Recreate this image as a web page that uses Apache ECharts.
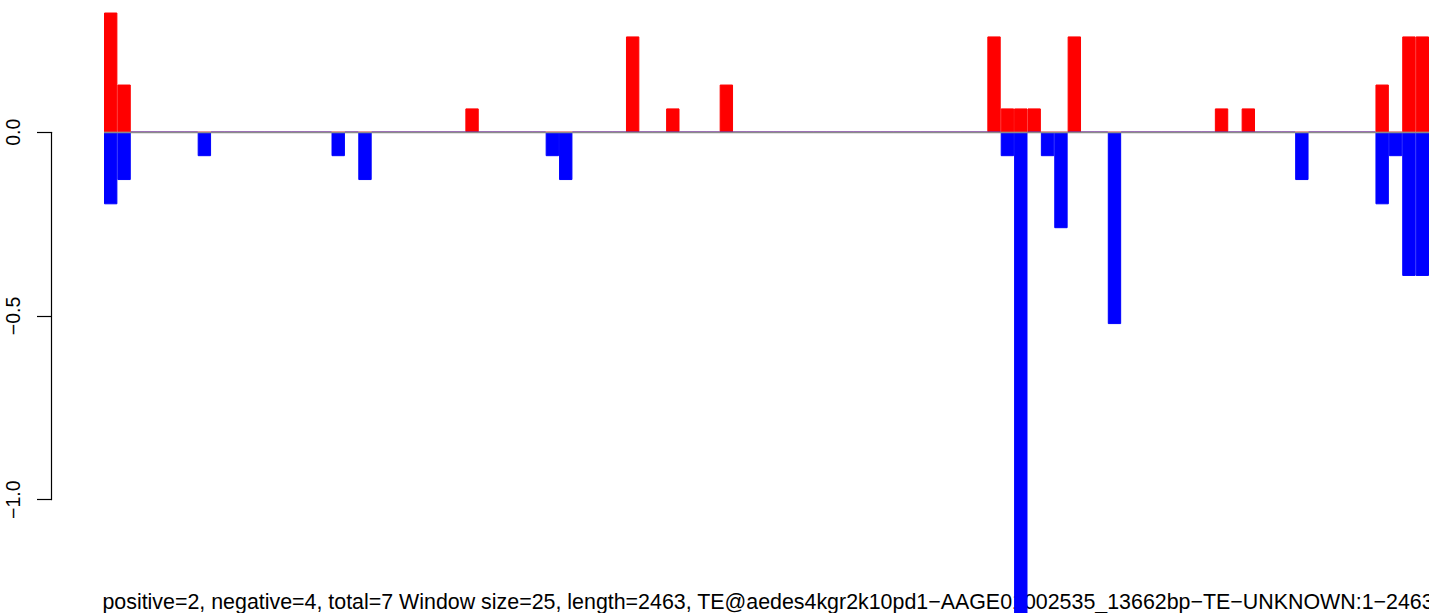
<!DOCTYPE html>
<html>
<head>
<meta charset="utf-8">
<script src="https://cdn.jsdelivr.net/npm/echarts@6/dist/echarts.min.js"></script>
<style>
html,body{margin:0;padding:0;background:#ffffff;}
#chart{width:1429px;height:613px;}
</style>
</head>
<body>
<div id="chart"></div>
<script>
// window index (1..99), window size 25 over length 2463
const windows = [1,2,3,4,5,6,7,8,9,10,11,12,13,14,15,16,17,18,19,20,
  21,22,23,24,25,26,27,28,29,30,31,32,33,34,35,36,37,38,39,40,
  41,42,43,44,45,46,47,48,49,50,51,52,53,54,55,56,57,58,59,60,
  61,62,63,64,65,66,67,68,69,70,71,72,73,74,75,76,77,78,79,80,
  81,82,83,84,85,86,87,88,89,90,91,92,93,94,95,96,97,98,99];

// positive strand values (red)
const positive = [0.326,0.130,0,0,0,0,0,0,0,0,
  0,0,0,0,0,0,0,0,0,0,
  0,0,0,0,0,0,0,0.065,0,0,
  0,0,0,0,0,0,0,0,0,0.261,
  0,0,0.065,0,0,0,0.130,0,0,0,
  0,0,0,0,0,0,0,0,0,0,
  0,0,0,0,0,0,0.261,0.065,0.065,0.065,
  0,0,0.261,0,0,0,0,0,0,0,
  0,0,0,0.065,0,0.065,0,0,0,0,
  0,0,0,0,0,0.130,0,0.261,0.261];

// negative strand values (blue)
const negative = [-0.196,-0.130,0,0,0,0,0,-0.065,0,0,
  0,0,0,0,0,0,0,-0.065,0,-0.130,
  0,0,0,0,0,0,0,0,0,0,
  0,0,0,-0.065,-0.130,0,0,0,0,0,
  0,0,0,0,0,0,0,0,0,0,
  0,0,0,0,0,0,0,0,0,0,
  0,0,0,0,0,0,0,-0.065,-1.40,0,
  -0.065,-0.261,0,0,0,-0.522,0,0,0,0,
  0,0,0,0,0,0,0,0,0,-0.130,
  0,0,0,0,0,-0.196,-0.065,-0.391,-0.391];

const yTicks = [0, -0.5, -1.0];
const xLabel = "positive=2, negative=4, total=7 Window size=25, length=2463, TE@aedes4kgr2k10pd1\u2212AAGE01002535_13662bp\u2212TE\u2212UNKNOWN:1\u22122463";

const FONT = "'Liberation Sans', Arial, Helvetica, sans-serif";
const chart = echarts.init(document.getElementById('chart'), null, {renderer: 'svg', width: 1429, height: 613});

const option = {
  animation: false,
  backgroundColor: '#ffffff',
  grid: [
    {left: 104, top: 0, width: 1328.2, height: 613, containLabel: false},
    {left: 51, top: 132.3, width: 1, height: 367.4, containLabel: false}
  ],
  xAxis: [
    {type: 'category', gridIndex: 0, data: windows, show: false, boundaryGap: true},
    {type: 'value', gridIndex: 1, show: false}
  ],
  yAxis: [
    {type: 'value', gridIndex: 0, min: -1.3084, max: 0.3601, show: false},
    {
      type: 'value', gridIndex: 1,
      min: yTicks[2], max: yTicks[0], interval: 0.5,
      axisLine: {show: true, lineStyle: {color: '#000000', width: 1.2}},
      axisTick: {show: true, length: 14, inside: false, lineStyle: {color: '#000000', width: 1.2}},
      splitLine: {show: false},
      axisLabel: {
        show: true, rotate: 90, margin: 38.5,
        align: 'center', verticalAlign: 'middle',
        fontSize: 19.5, fontFamily: FONT, color: '#000000',
        formatter: function (v) { return (v < 0 ? '\u2212' : '') + Math.abs(v).toFixed(1); }
      }
    }
  ],
  graphic: [
    {
      type: 'text', x: 768, y: 602, z: 0, silent: true,
      style: {
        text: xLabel, fill: '#000000',
        fontSize: 21.4, fontFamily: FONT,
        align: 'center', verticalAlign: 'middle',
        textAlign: 'center', textVerticalAlign: 'middle'
      }
    }
  ],
  series: [
    {
      type: 'line', xAxisIndex: 0, yAxisIndex: 0, data: [], z: 1, silent: true,
      markLine: {
        silent: true, symbol: ['none', 'none'],
        label: {show: false},
        lineStyle: {color: '#8a8a8a', width: 1.3, type: 'solid'},
        data: [{yAxis: 0}]
      }
    },
    {
      name: 'positive', type: 'bar', xAxisIndex: 0, yAxisIndex: 0,
      data: positive, barWidth: '100%', barGap: '-100%', z: 3,
      itemStyle: {color: '#ff0000', borderColor: '#ff0000', borderWidth: 1}
    },
    {
      name: 'negative', type: 'bar', xAxisIndex: 0, yAxisIndex: 0,
      data: negative, barWidth: '100%', barGap: '-100%', z: 3,
      itemStyle: {color: '#0000ff', borderColor: '#0000ff', borderWidth: 1}
    }
  ]
};
chart.setOption(option);
</script>
</body>
</html>
